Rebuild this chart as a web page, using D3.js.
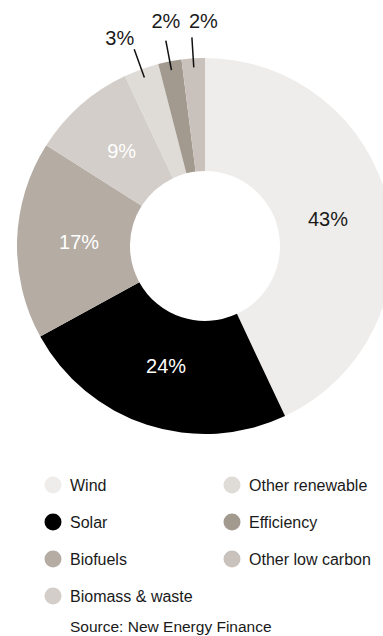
<!DOCTYPE html>
<html>
<head>
<meta charset="utf-8">
<script src="https://cdnjs.cloudflare.com/ajax/libs/d3/7.8.5/d3.min.js"></script>
<style>
  body { margin: 0; background: #fff; }
  svg { display: block; font-family: "Liberation Sans", Arial, Helvetica, sans-serif; }
</style>
</head>
<body>
<div class="chart"></div>
<script>
// data
var categories = ["Wind", "Solar", "Biofuels", "Biomass & waste", "Other renewable", "Efficiency", "Other low carbon"];
var shares = [43, 24, 17, 9, 3, 2, 2];
var colors = ["#efedeb", "#000000", "#b5aca4", "#d3cec9", "#dfdcd8", "#a39a8f", "#c9c1bb"];
var labelColors = ["#1a1a1a", "#ffffff", "#ffffff", "#ffffff", "#1a1a1a", "#1a1a1a", "#1a1a1a"];
// slices too thin for an inside label get a leader line
var outside = [false, false, false, false, true, true, true];
var outsideAnchor = ["", "", "", "", "end", "middle", "start"];
var legendOrder = ["Wind", "Other renewable", "Solar", "Efficiency", "Biofuels", "Other low carbon", "Biomass & waste"];
var sourceText = "Source: New Energy Finance";

var svgWidth = 383;
var svgHeight = 636;

var cx = 205, cy = 246;
var outerR = 188, innerR = 75;

var svg = d3.select(".chart")
  .append("svg")
  .attr("width", svgWidth)
  .attr("height", svgHeight);

var data = categories.map(function (c, i) {
  return { name: c, value: shares[i], color: colors[i], labelColor: labelColors[i], outside: outside[i], anchor: outsideAnchor[i] };
});

var pie = d3.pie()
  .sort(null)
  .value(d => d.value);

var arc = d3.arc()
  .innerRadius(innerR)
  .outerRadius(outerR);

// labels sit a little inside the ring's middle
var labelArc = d3.arc().innerRadius(126).outerRadius(126);
var lineInner = d3.arc().innerRadius(179).outerRadius(179);
var lineOuter = d3.arc().innerRadius(209).outerRadius(209);

var chartGroup = svg.append("g")
  .attr("transform", `translate(${cx}, ${cy})`);

var arcs = pie(data);

chartGroup.selectAll("path")
  .data(arcs)
  .enter()
  .append("path")
  .attr("d", arc)
  .attr("fill", d => d.data.color);

// inside labels
chartGroup.selectAll(".inlabel")
  .data(arcs.filter(d => !d.data.outside))
  .enter()
  .append("text")
  .attr("class", "inlabel")
  .attr("transform", d => `translate(${labelArc.centroid(d)})`)
  .attr("dy", "0.35em")
  .attr("text-anchor", "middle")
  .attr("font-size", "20px")
  .attr("fill", d => d.data.labelColor)
  .text(d => d.data.value + "%");

// leader lines + outside labels
var outs = arcs.filter(d => d.data.outside);

chartGroup.selectAll(".leader")
  .data(outs)
  .enter()
  .append("line")
  .attr("class", "leader")
  .attr("x1", d => lineInner.centroid(d)[0])
  .attr("y1", d => lineInner.centroid(d)[1])
  .attr("x2", d => lineOuter.centroid(d)[0])
  .attr("y2", d => lineOuter.centroid(d)[1])
  .attr("stroke", "#111")
  .attr("stroke-width", 1.5);

chartGroup.selectAll(".outlabel")
  .data(outs)
  .enter()
  .append("text")
  .attr("class", "outlabel")
  .attr("x", d => lineOuter.centroid(d)[0] + (d.data.anchor == "start" ? -3 : 0))
  .attr("y", d => lineOuter.centroid(d)[1] - (d.data.anchor == "end" ? 4 : (d.data.anchor == "middle" ? 13 : 9)))
  .attr("text-anchor", d => d.data.anchor)
  .attr("font-size", "20px")
  .attr("fill", "#1a1a1a")
  .text(d => d.data.value + "%");

// legend, two columns
var legendGroup = svg.append("g");
var colX = d3.scaleOrdinal().domain([0, 1]).range([53, 232]);
var rowY = d3.scaleLinear().domain([0, 1]).range([485, 522]);

var legendItems = legendGroup.selectAll("g")
  .data(legendOrder)
  .enter()
  .append("g")
  .attr("transform", (d, i) => `translate(${colX(i % 2)}, ${rowY(Math.floor(i / 2))})`);

legendItems.append("circle")
  .attr("r", 8.5)
  .attr("fill", d => colors[categories.indexOf(d)]);

legendItems.append("text")
  .attr("x", 17)
  .attr("dy", "0.36em")
  .attr("font-size", "16px")
  .attr("fill", "#1a1a1a")
  .text(d => d);

svg.append("text")
  .attr("x", 70)
  .attr("y", 632)
  .attr("font-size", "15.5px")
  .attr("fill", "#1a1a1a")
  .text(sourceText);
</script>
</body>
</html>
